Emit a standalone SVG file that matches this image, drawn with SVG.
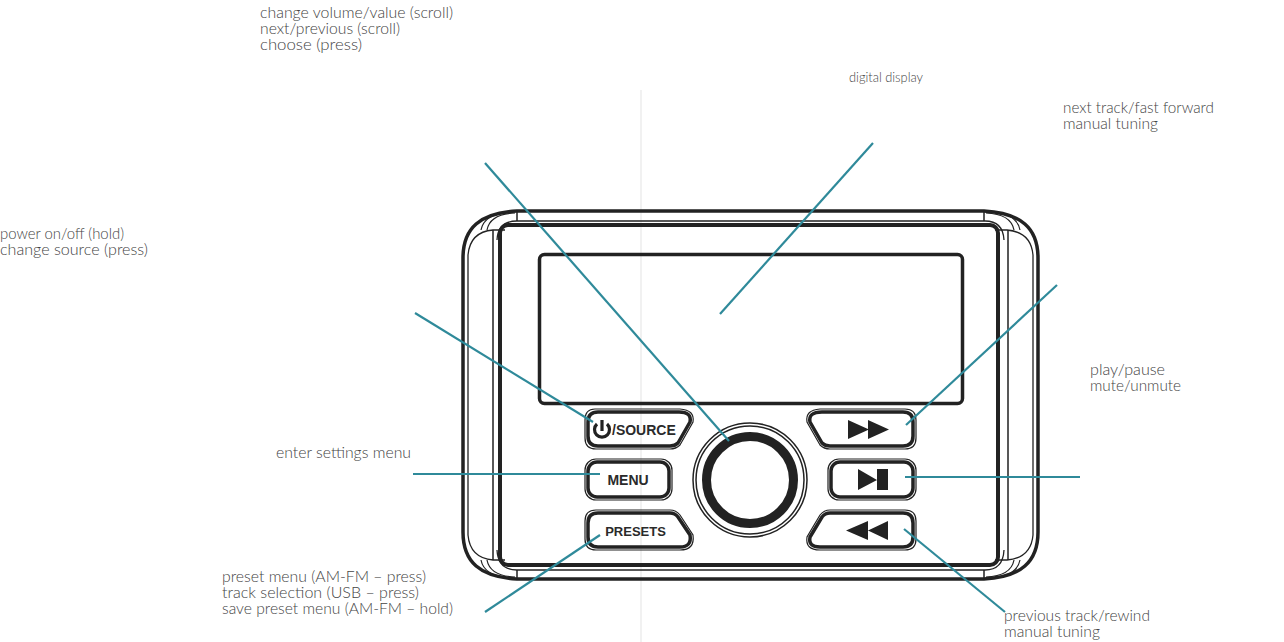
<svg xmlns="http://www.w3.org/2000/svg" width="1284" height="642" viewBox="0 0 1284 642">
<style>
.t{font-family:"Lato","Open Sans","Liberation Sans",sans-serif;font-weight:300;font-size:15.2px;fill:#444}
.f{fill:none;stroke:#222}
.k{font-family:"Liberation Sans",Arial,sans-serif;font-weight:700;fill:#2a2a2a}
.c{stroke:#2f8a9a;stroke-width:2.2;fill:none}
.b1{fill:none;stroke:#222;stroke-width:3.5}
.b2{fill:none;stroke:#222;stroke-width:1.2}
</style>
<rect width="1284" height="642" fill="#fff"/>
<line x1="641" y1="90" x2="641" y2="642" stroke="#ececec" stroke-width="1.5"/>
<g id="device">
<path class="f" stroke-width="3.500" d="M463 258C463 228 480 213 517 211H984C1021 213 1038 228 1038 258V532C1038 562 1021 577 984 579H517C480 577 463 562 463 532Z"/>
<path class="f" stroke-width="1.3" d="M468 255V535M1033 255V535M517 221H985M517 570H985"/>
<path class="f" stroke-width="1.3" d="M468 255Q470 232 493 230H505M1033 255Q1031 232 1007 230H995M468 535Q470 558 493 560H505M1033 535Q1031 558 1007 560H995"/>
<path class="f" stroke-width="1.5" d="M493 230V560M1008 230V560M517 212V221M517 570V579M984 212V221M984 570V579"/>
<path class="f" stroke-width="1.2" d="M487 230Q490 214 515 213M481 230Q484 214 510 212M1014 230Q1011 214 986 213M1020 230Q1017 214 992 212M487 560Q490 576 515 577M481 560Q484 576 510 578M1014 560Q1011 576 986 577M1020 560Q1017 576 992 578"/>
<path class="f" stroke-width="1.3" d="M497 240Q498 221 517 221M1004 240Q1003 221 985 221M497 550Q498 570 517 570M1004 550Q1003 570 985 570"/>
<rect class="f" stroke-width="4" x="500" y="225" width="498" height="340" rx="8"/>
<rect class="f" stroke-width="3.500" x="539.500" y="254.500" width="423" height="149" rx="5"/>
</g>
<g id="btn-source">
<path class="b1" d="M598 412H679Q692 412 690 422L678 443Q675 446 670 446H598Q588 446 588 436V422Q588 412 598 412Z"/>
<path class="b2" d="M595 409H680Q695 410 693 422L680 445Q676 449 670 449H596Q585 449 585 438V420Q585 409 595 409Z"/>
<path fill="none" stroke="#222" stroke-width="3.200" d="M597 424A7.500 7.500 0 1 0 607 424M602 420V431"/>
<text class="k" x="612" y="435" font-size="14">/SOURCE</text>
</g>
<g id="btn-menu">
<rect class="b1" x="588" y="462" width="81" height="35" rx="9"/>
<rect class="b2" x="585" y="459" width="87" height="41" rx="11"/>
<text class="k" x="628" y="485" font-size="14" text-anchor="middle">MENU</text>
</g>
<g id="btn-presets">
<path class="b1" d="M598 513H670Q675 513 678 517L690 535Q692 547 680 547H598Q588 547 588 537V523Q588 513 598 513Z"/>
<path class="b2" d="M596 510H670Q676 510 680 515L693 535Q695 550 680 550H596Q585 550 585 539V521Q585 510 596 510Z"/>
<text class="k" x="635.500" y="536" font-size="13" text-anchor="middle">PRESETS</text>
</g>
<g id="knob">
<circle class="f" stroke-width="1.500" cx="750" cy="480" r="57"/>
<circle class="f" stroke-width="1.500" cx="750" cy="480" r="54"/>
<circle class="f" stroke-width="9" cx="750" cy="480" r="43.500"/>
</g>
<g id="btn-forward">
<path class="b1" d="M822 412H903Q913 412 913 422V436Q913 446 903 446H830Q825 446 822 443L810 422Q808 412 822 412Z"/>
<path class="b2" d="M820 409H905Q916 409 916 420V438Q916 449 905 449H830Q824 449 820 445L807 422Q805 410 820 409Z"/>
<path fill="#222" d="M848 420L869 429.500L848 439ZM868 420L889 429.500L868 439Z"/>
</g>
<g id="btn-play">
<rect class="b1" x="831" y="462" width="82" height="35" rx="9"/>
<rect class="b2" x="828" y="459" width="88" height="41" rx="11"/>
<path fill="#222" d="M858 469L877 480L858 490ZM877 469H888V490H877Z"/>
</g>
<g id="btn-rewind">
<path class="b1" d="M830 513H903Q913 513 913 523V537Q913 547 903 547H820Q808 547 810 537L822 517Q825 513 830 513Z"/>
<path class="b2" d="M830 510H905Q916 510 916 521V539Q916 550 905 550H820Q805 550 807 537L820 515Q824 510 830 510Z"/>
<path fill="#222" d="M846 530.500L868 521V540ZM868 530.500L888 521V540Z"/>
</g>
<g id="connectors">
<line class="c" x1="485" y1="163" x2="729" y2="441"/>
<line class="c" x1="873" y1="143" x2="720" y2="314"/>
<line class="c" x1="1057" y1="285" x2="906" y2="425"/>
<line class="c" x1="1080" y1="477" x2="905" y2="477"/>
<line class="c" x1="1005" y1="612" x2="904" y2="529"/>
<line class="c" x1="485" y1="612" x2="600" y2="535"/>
<line class="c" x1="413" y1="474" x2="600" y2="474"/>
<line class="c" x1="415" y1="313" x2="593" y2="422"/>
</g>
<g id="labels">
<text class="t" x="260" y="18" textLength="193" lengthAdjust="spacingAndGlyphs">change volume/value (scroll)</text>
<text class="t" x="260" y="34" textLength="140" lengthAdjust="spacingAndGlyphs">next/previous (scroll)</text>
<text class="t" x="260" y="50" textLength="102" lengthAdjust="spacingAndGlyphs">choose (press)</text>
<text class="t" x="849" y="82" style="font-size:13px" textLength="74" lengthAdjust="spacingAndGlyphs">digital display</text>
<text class="t" x="1063" y="113" textLength="151" lengthAdjust="spacingAndGlyphs">next track/fast forward</text>
<text class="t" x="1063" y="129" textLength="95" lengthAdjust="spacingAndGlyphs">manual tuning</text>
<text class="t" x="0" y="239" textLength="124" lengthAdjust="spacingAndGlyphs">power on/off (hold)</text>
<text class="t" x="0" y="255" textLength="148" lengthAdjust="spacingAndGlyphs">change source (press)</text>
<text class="t" x="1090" y="375" textLength="75" lengthAdjust="spacingAndGlyphs">play/pause</text>
<text class="t" x="1090" y="391" textLength="91" lengthAdjust="spacingAndGlyphs">mute/unmute</text>
<text class="t" x="276" y="458" textLength="135" lengthAdjust="spacingAndGlyphs">enter settings menu</text>
<text class="t" x="222" y="582" textLength="204" lengthAdjust="spacingAndGlyphs">preset menu (AM-FM – press)</text>
<text class="t" x="222" y="598" textLength="197" lengthAdjust="spacingAndGlyphs">track selection (USB – press)</text>
<text class="t" x="222" y="614" textLength="231" lengthAdjust="spacingAndGlyphs">save preset menu (AM-FM – hold)</text>
<text class="t" x="1004" y="621" textLength="146" lengthAdjust="spacingAndGlyphs">previous track/rewind</text>
<text class="t" x="1004" y="637" textLength="96" lengthAdjust="spacingAndGlyphs">manual tuning</text>
</g>
</svg>
